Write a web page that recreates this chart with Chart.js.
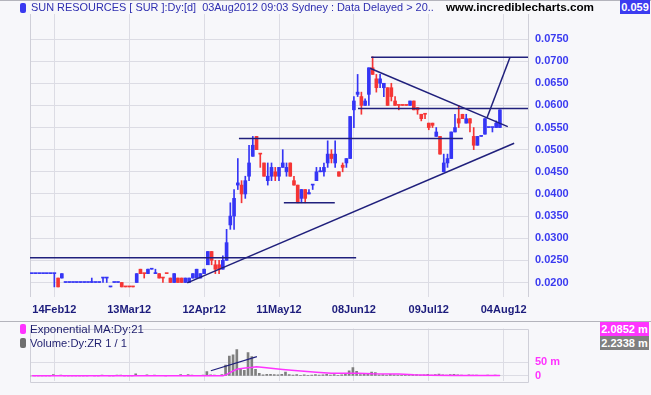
<!DOCTYPE html>
<html>
<head>
<meta charset="utf-8">
<script src="https://cdn.jsdelivr.net/npm/chart.js@4.4.1/dist/chart.umd.min.js"></script>
<style>
  body { margin: 0; background: #f7f7fa; width: 651px; height: 395px; overflow: hidden; position: relative;
         font-family: "Liberation Sans", Arial, sans-serif; }
  canvas { position: absolute; left: 0; }
  .t { position: absolute; white-space: pre; font-size: 11px; line-height: 14px; transform-origin: 0 50%; }
  .box { position: absolute; color: #fff; font-weight: bold; font-size: 11px; line-height: 14px; text-align: center; }
  .sq { position: absolute; width: 6px; height: 10px; border-radius: 2px; }
  .rule { position: absolute; left: 0; width: 651px; height: 1px; background: #b4b4bc; }
</style>
</head>
<body>
<canvas id="priceCanvas" width="651" height="315" style="top:0"></canvas>
<canvas id="volumeCanvas" width="651" height="80" style="top:315px"></canvas>

<div class="rule" style="top:0"></div>
<div class="sq" style="left:20px;top:3px;background:#3a3af0"></div>
<div class="t" id="title" style="left:31px;top:0;color:#2e2eb0">SUN RESOURCES [ SUR ]:Dy:[d]  03Aug2012 09:03 Sydney : Data Delayed &gt; 20..</div>
<div class="t" id="site" style="left:446px;top:0;color:#000;font-weight:bold">www.incrediblecharts.com</div>
<div class="box" style="left:620px;top:0;width:30px;background:#3c3cf0">0.059</div>

<div class="rule" style="top:321px"></div>
<div class="sq" style="left:20px;top:324px;background:#ff33ff"></div>
<div class="t" id="emaLbl" style="left:30px;top:322px;color:#1e1e6e">Exponential MA:Dy:21</div>
<div class="sq" style="left:20px;top:338px;background:#6e6e6e"></div>
<div class="t" id="volLbl" style="left:30px;top:336px;color:#1e1e6e">Volume:Dy:ZR 1 / 1</div>
<div class="box" style="left:600px;top:322px;width:49px;background:#ff33ff">2.0852 m</div>
<div class="box" style="left:600px;top:336px;width:49px;background:#7f7f7f">2.2338 m</div>

<script>
// trading days shown on the chart
const dates = [
  '06Feb12','07Feb12','08Feb12','09Feb12','10Feb12','13Feb12','14Feb12','15Feb12','16Feb12','17Feb12',
  '20Feb12','21Feb12','22Feb12','23Feb12','24Feb12','27Feb12','28Feb12','29Feb12',
  '01Mar12','02Mar12','05Mar12','06Mar12','07Mar12','08Mar12','09Mar12','12Mar12','13Mar12','14Mar12','15Mar12','16Mar12',
  '19Mar12','20Mar12','21Mar12','22Mar12','23Mar12','26Mar12','27Mar12','28Mar12','29Mar12','30Mar12',
  '02Apr12','03Apr12','04Apr12','05Apr12','10Apr12','11Apr12','12Apr12','13Apr12','16Apr12','17Apr12',
  '18Apr12','19Apr12','20Apr12','23Apr12','24Apr12','26Apr12','27Apr12','30Apr12',
  '01May12','02May12','03May12','04May12','07May12','08May12','09May12','10May12','11May12','14May12',
  '15May12','16May12','17May12','18May12','21May12','22May12','23May12','24May12','25May12','28May12',
  '29May12','30May12','31May12',
  '01Jun12','04Jun12','05Jun12','06Jun12','07Jun12','08Jun12','12Jun12','13Jun12','14Jun12','15Jun12',
  '18Jun12','19Jun12','20Jun12','21Jun12','22Jun12','25Jun12','26Jun12','27Jun12','28Jun12','29Jun12',
  '02Jul12','03Jul12','04Jul12','05Jul12','06Jul12','09Jul12','10Jul12','11Jul12','12Jul12','13Jul12',
  '16Jul12','17Jul12','18Jul12','19Jul12','20Jul12','23Jul12','24Jul12','25Jul12','26Jul12','27Jul12',
  '30Jul12','31Jul12','01Aug12','02Aug12','03Aug12'
];
// empty slots to the right of the last bar
const futureSlots = ['06Aug12','07Aug12','08Aug12','09Aug12','10Aug12','13Aug12','14Aug12'];

const tickIdx = [6, 26, 46, 66, 86, 106, 126];
const tickLabels = ['14Feb12', '13Mar12', '12Apr12', '11May12', '08Jun12', '09Jul12', '04Aug12'];
const priceTicks = [0.020, 0.025, 0.030, 0.035, 0.040, 0.045, 0.050, 0.055, 0.060, 0.065, 0.070, 0.075];
const volTicks = [0, 50];

const open = [
  .022,.022,.022,.022,.022,.022,.022,.021,.021,.020,
  .020,.020,.020,.020,.020,.020,.020,.020,.020,.021,
  .021,.019,.020,.020,.020,.019,.019,.019,.020,.023,
  .022,.022,.023,.022,.022,.021,.022,.021,.020,.021,
  .021,.020,.020,.021,.021,.021,.022,.024,.027,.024,
  .024,.023,.025,.033,.035,.042,.042,.040,.044,.0485,
  .053,.049,.047,.043,.044,.045,.044,.046,.045,.047,
  .043,.042,.039,.041,.040,.042,.043,.045,.045,.047,
  .049,.047,.045,.0465,.047,.048,.059,.0625,.062,.060,
  .0625,.0685,.066,.065,.064,.064,.064,.061,.060,.060,
  .060,.060,.061,.0595,.058,.058,.056,.056,.053,.053,
  .045,.047,.048,.054,.057,.058,.056,.057,.053,.051,
  .053,.0535,.055,.055,.055,.055
];
const high = [
  .022,.022,.022,.022,.022,.022,.022,.021,.022,.020,
  .020,.020,.020,.020,.020,.020,.021,.020,.020,.021,
  .021,.019,.020,.020,.020,.019,.019,.019,.022,.023,
  .022,.023,.023,.023,.022,.021,.022,.021,.022,.021,
  .021,.021,.021,.022,.023,.022,.023,.027,.027,.025,
  .025,.026,.032,.038,.041,.048,.043,.044,.051,.053,
  .053,.049,.047,.047,.047,.046,.046,.050,.047,.047,
  .044,.042,.041,.041,.041,.042,.046,.046,.047,.052,
  .050,.052,.045,.047,.048,.0575,.062,.067,.063,.0615,
  .0685,.071,.067,.067,.065,.064,.065,.062,.060,.060,
  .060,.061,.061,.0595,.058,.058,.056,.056,.055,.053,
  .049,.049,.054,.058,.060,.058,.058,.057,.055,.053,
  .053,.057,.055,.055,.0565,.059
];
const low = [
  .022,.022,.022,.022,.022,.022,.019,.019,.021,.020,
  .020,.020,.020,.020,.020,.020,.020,.020,.020,.020,
  .020,.019,.020,.020,.019,.019,.019,.019,.020,.022,
  .021,.022,.023,.022,.021,.020,.022,.020,.020,.020,
  .020,.020,.020,.021,.021,.021,.022,.024,.024,.022,
  .022,.023,.025,.032,.032,.041,.038,.039,.043,.0485,
  .050,.046,.044,.042,.043,.043,.043,.046,.044,.044,
  .042,.038,.038,.038,.040,.041,.043,.045,.044,.046,
  .047,.046,.044,.045,.046,.048,.055,.062,.058,.060,
  .060,.067,.063,.064,.062,.060,.061,.060,.059,.060,
  .060,.060,.059,.058,.0565,.057,.0545,.055,.053,.049,
  .045,.046,.048,.054,.055,.057,.056,.054,.050,.051,
  .053,.0535,.055,.054,.055,.055
];
const close = [
  .022,.022,.022,.022,.022,.022,.022,.019,.022,.020,
  .020,.020,.020,.020,.020,.020,.020,.020,.020,.021,
  .021,.019,.020,.020,.019,.019,.019,.019,.022,.022,
  .022,.023,.023,.022,.021,.021,.022,.020,.022,.020,
  .020,.021,.021,.022,.023,.022,.023,.027,.025,.023,
  .023,.025,.029,.035,.039,.0425,.040,.043,.047,.051,
  .050,.049,.044,.044,.046,.044,.046,.047,.046,.044,
  .042,.038,.041,.039,.0403,.042,.045,.045,.046,.049,
  .048,.049,.044,.046,.048,.0575,.061,.063,.060,.061,
  .0685,.067,.064,.066,.065,.060,.062,.060,.060,.060,
  .060,.061,.059,.059,.057,.058,.055,.0555,.054,.049,
  .047,.048,.054,.055,.056,.057,.057,.056,.051,.053,
  .053,.057,.055,.055,.056,.059
];
// volume in millions
const volume = [
  0,0,0,0,0,0,5,1,3,0,
  0,0,0,0,0,0,1,0,0,3,
  1,0,0,3,3,0,0,0,8,2,
  1,4,1,3,2,1,0,2,2,1,
  5,2,5,3,2,2,3,16,4,3,
  2,5,40,73,78,97,24,21,86,71,
  24,10,4,6,6,5,4,6,14,5,
  3,5,2,4,2,3,5,3,4,6,
  3,5,2,4,6,19,31,17,5,6,
  8,14,12,4,5,3,6,4,3,2,
  1,3,4,5,3,4,6,3,5,7,
  4,3,5,6,4,3,2,4,3,3,
  2,1,3,2,3,2
];
// exponential MA(21) of volume, read at [day index, millions]
const emaPoints = [
  [0,1],[51,1],[52,5],[53,13],[54,20],[55,26],[57,29],[59,32],[60,34],[62,31],
  [67,24],[71,19],[76,14],[80,10],[87,10],[91,8],[98,7],[102,4],[106,3],[113,2],[125,2]
];
// hand-drawn trend lines: [[day index, price], [day index, price]]
const trendLines = [
  [[-0.5, 0.0256], [86.6, 0.0256]],
  [[41.5, 0.0199], [128.8, 0.05145]],
  [[55.3, 0.0525], [115.1, 0.0525]],
  [[67.3, 0.0380], [80.9, 0.0380]],
  [[90.6, 0.0709], [132.5, 0.0709]],
  [[87.1, 0.0593], [132.5, 0.0593]],
  [[90.3, 0.0684], [127.1, 0.0552]],
  [[121.5, 0.0571], [127.7, 0.0709]]
];
const volTrend = [[47.8, 19], [60.1, 71]];

const UP = '#3535f5';
const DOWN = '#f53535';
const NAVY = '#20207c';
const GRID = '#dcdce4';

const labels = dates.concat(futureSlots);

const candleColor = [];
for (let i = 0; i < close.length; i++) {
  let up;
  if (close[i] > open[i]) up = true;
  else if (close[i] < open[i]) up = false;
  else up = i === 0 ? true : candleColor[i - 1] === UP;
  candleColor.push(up ? UP : DOWN);
}

Chart.defaults.font.family = '"Liberation Sans", Arial, sans-serif';

const frame = {
  id: 'frame',
  beforeDatasetsDraw(chart, args, opts) {
    const { ctx, chartArea: a } = chart;
    ctx.save();
    ctx.strokeStyle = opts.color;
    ctx.lineWidth = 1;
    ctx.beginPath();
    if (opts.box) {
      ctx.rect(Math.round(a.left) + 0.5, Math.round(a.top) + 0.5, Math.round(a.width), Math.round(a.height));
    } else {
      ctx.moveTo(Math.round(a.left) + 0.5, a.top);
      ctx.lineTo(Math.round(a.left) + 0.5, a.bottom);
      ctx.moveTo(Math.round(a.right) + 0.5, a.top);
      ctx.lineTo(Math.round(a.right) + 0.5, a.bottom);
    }
    ctx.stroke();
    ctx.restore();
  }
};

const lineSet = (pts, color, width, axis) => ({
  type: 'line',
  xAxisID: 'xl',
  yAxisID: axis,
  data: pts.map(p => ({ x: p[0], y: p[1] })),
  borderColor: color,
  borderWidth: width,
  pointRadius: 0,
  order: 0
});

// hidden linear twin of the category axis, for the free-drawn lines
const lineAxis = { type: 'linear', display: false, offset: false, min: -0.5, max: labels.length - 0.5 };

// price panel
new Chart(document.getElementById('priceCanvas'), {
  type: 'bar',
  data: {
    labels: labels,
    datasets: [
      {
        label: 'wick',
        data: low.map((l, i) => [l, high[i]]),
        backgroundColor: candleColor,
        barThickness: 1,
        grouped: false,
        order: 2
      },
      {
        label: 'body',
        data: open.map((o, i) => [o, close[i]]),
        backgroundColor: candleColor,
        barThickness: 3,
        minBarLength: 1,
        grouped: false,
        order: 1
      },
      ...trendLines.map(seg => lineSet(seg, NAVY, 1.5, 'y'))
    ]
  },
  options: {
    responsive: false,
    animation: false,
    devicePixelRatio: 1,
    events: [],
    layout: { padding: { left: 30, top: 14, right: 0, bottom: 0 } },
    plugins: { legend: { display: false }, tooltip: { enabled: false }, frame: { color: '#cfcfd8' } },
    scales: {
      x: {
        type: 'category',
        offset: true,
        grid: { offset: false, color: GRID, drawTicks: false },
        border: { display: false },
        ticks: {
          autoSkip: false, maxRotation: 0, padding: 6, color: '#1c1c7c',
          font: { weight: 'bold', size: 11 },
          callback: v => tickLabels[tickIdx.indexOf(v)]
        },
        afterBuildTicks: s => { s.ticks = tickIdx.map(v => ({ value: v })); },
        afterFit: s => { s.height = 18; }
      },
      xl: lineAxis,
      y: {
        position: 'right',
        min: 0.01672,
        max: 0.08065,
        grid: { color: GRID, drawTicks: false },
        border: { display: false },
        ticks: {
          padding: 7, color: '#3a3af0',
          font: { weight: 'bold', size: 11 },
          callback: v => v.toFixed(4)
        },
        afterBuildTicks: s => { s.ticks = priceTicks.map(v => ({ value: v })); },
        afterFit: s => { s.width = 123; }
      }
    }
  },
  plugins: [frame]
});

// volume panel
new Chart(document.getElementById('volumeCanvas'), {
  type: 'bar',
  data: {
    labels: labels,
    datasets: [
      { label: 'volume', data: volume, backgroundColor: '#7f7f7f', barThickness: 2, order: 2 },
      Object.assign(lineSet(emaPoints, '#ff33ff', 1.5, 'y'), { order: 1 }),
      lineSet(volTrend, NAVY, 1.2, 'y')
    ]
  },
  options: {
    responsive: false,
    animation: false,
    devicePixelRatio: 1,
    events: [],
    layout: { padding: { left: 30, top: 7, right: 0, bottom: 11 } },
    plugins: { legend: { display: false }, tooltip: { enabled: false }, frame: { color: '#cfcfd8', box: true } },
    scales: {
      x: {
        type: 'category',
        offset: true,
        grid: { offset: false, color: GRID, drawTicks: false },
        border: { display: false },
        ticks: { display: false },
        afterBuildTicks: s => { s.ticks = tickIdx.map(v => ({ value: v })); },
        afterFit: s => { s.height = 0; }
      },
      xl: lineAxis,
      y: {
        position: 'right',
        min: -20,
        max: 174,
        grid: { color: GRID, drawTicks: false },
        border: { display: false },
        ticks: {
          padding: 7, color: '#ff33ff',
          font: { weight: 'bold', size: 11 },
          callback: v => (v === 0 ? '0' : v + ' m')
        },
        afterBuildTicks: s => { s.ticks = volTicks.map(v => ({ value: v })); },
        afterFit: s => { s.width = 123; }
      }
    }
  },
  plugins: [frame]
});

// squeeze the header texts to the widths seen in the reference
function fit(id, w) {
  const el = document.getElementById(id);
  const k = w / el.getBoundingClientRect().width;
  el.style.transform = 'scaleX(' + k.toFixed(3) + ')';
}
fit('title', 403);
fit('site', 148);
fit('emaLbl', 114);
fit('volLbl', 97);
</script>
</body>
</html>
